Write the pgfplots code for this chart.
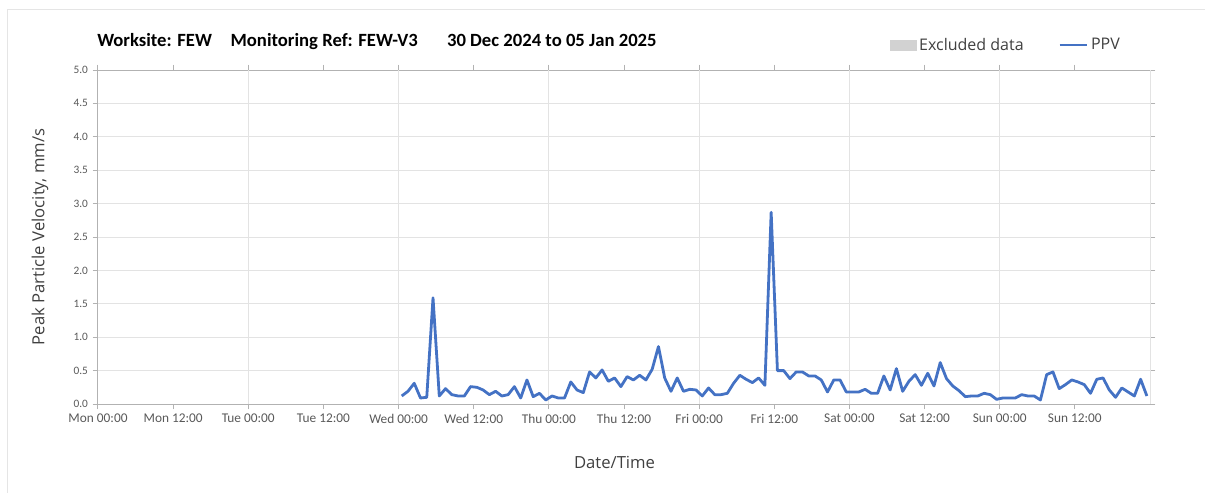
\documentclass[border=0pt]{standalone}
\usepackage{fontspec}
\setmainfont{Carlito}
\newfontfamily\labelfont{Open Sans}
\usepackage{pgfplots}
\pgfplotsset{compat=1.18}
\definecolor{ppvblue}{HTML}{4472C4}
\definecolor{ticktext}{HTML}{595959}
\definecolor{labeltext}{HTML}{404040}

\begin{document}
\begin{tikzpicture}
% 1px = 0.75pt, origin at the lower left corner of the plot area
\useasboundingbox (-73.5pt,-66.75pt) rectangle (830.25pt,303pt);
\draw[gray!20, line width=0.75pt] (-67.5pt,-66.75pt) -- (-67.5pt,295.5pt) -- (830.25pt,295.5pt);

\node[anchor=west, inner sep=0pt, font=\fontsize{14}{16}\selectfont\bfseries] at (-0.75pt,271.5pt)
  {Worksite: FEW\hspace{14pt}Monitoring Ref: FEW-V3\hspace{22pt}30 Dec 2024 to 05 Jan 2025};

\begin{axis}[
  scale only axis,
  width=789pt, height=250.5pt,
  xmin=0, xmax=168, ymin=0, ymax=5,
  xtick={0,12,...,156},
  xticklabels={Mon 00:00,Mon 12:00,Tue 00:00,Tue 12:00,Wed 00:00,Wed 12:00,Thu 00:00,Thu 12:00,Fri 00:00,Fri 12:00,Sat 00:00,Sat 12:00,Sun 00:00,Sun 12:00},
  extra x ticks={24,48,...,168},
  extra x tick labels={},
  extra x tick style={grid=major, major tick length=0pt},
  ytick={0,0.5,1,1.5,2,2.5,3,3.5,4,4.5,5},
  yticklabel={\pgfmathprintnumber[fixed,fixed zerofill,precision=1]{\tick}},
  /pgf/number format/assume math mode=true,
  ymajorgrids=true,
  grid style={gray!22, line width=0.75pt},
  tick align=outside,
  major tick length=4pt,
  tick style={gray!60, line width=0.75pt},
  axis line style={gray!60, line width=0.75pt},
  x tick label style={font=\fontsize{10}{11}\selectfont, text=ticktext},
  y tick label style={font=\fontsize{8.5}{9}\selectfont, text=ticktext},
  xlabel={Date/Time},
  ylabel={Peak Particle Velocity, mm/s},
  xlabel style={at={(axis description cs:0.491,-0.174)}, anchor=center, font=\labelfont\fontsize{12.5}{14}\selectfont, text=labeltext},
  ylabel style={at={(axis description cs:-0.0551,0.5)}, anchor=center, font=\labelfont\fontsize{12.5}{14}\selectfont, text=labeltext},
  legend style={at={(0.749,1.075)}, anchor=west, draw=none, fill=none,
    font=\labelfont\fontsize{12}{14}\selectfont, text=labeltext,
    /tikz/every even column/.append style={column sep=24pt}},
  legend columns=2,
  legend cell align=left,
]
\addlegendimage{legend image code/.code={\fill[gray!35] (0cm,-0.13cm) rectangle (0.68cm,0.13cm);}}
\addplot[color=ppvblue, line width=2.1pt, line join=round, mark=none,
  legend image code/.code={\draw[ppvblue, line width=2.1pt] (0cm,0cm) -- (0.72cm,0cm);}] table {
x y
48.5 0.12
49.5 0.19
50.5 0.31
51.5 0.09
52.5 0.10
53.5 1.59
54.5 0.12
55.5 0.23
56.5 0.14
57.5 0.12
58.5 0.12
59.5 0.26
60.5 0.25
61.5 0.21
62.5 0.14
63.5 0.19
64.5 0.12
65.5 0.14
66.5 0.26
67.5 0.09
68.5 0.36
69.5 0.11
70.5 0.16
71.5 0.06
72.5 0.12
73.5 0.09
74.5 0.09
75.5 0.33
76.5 0.21
77.5 0.17
78.5 0.48
79.5 0.39
80.5 0.51
81.5 0.34
82.5 0.39
83.5 0.26
84.5 0.41
85.5 0.36
86.5 0.43
87.5 0.36
88.5 0.52
89.5 0.86
90.5 0.39
91.5 0.19
92.5 0.39
93.5 0.19
94.5 0.22
95.5 0.21
96.5 0.12
97.5 0.24
98.5 0.14
99.5 0.14
100.5 0.16
101.5 0.31
102.5 0.43
103.5 0.37
104.5 0.32
105.5 0.39
106.5 0.28
107.5 2.87
108.5 0.50
109.5 0.50
110.5 0.38
111.5 0.48
112.5 0.48
113.5 0.42
114.5 0.42
115.5 0.36
116.5 0.18
117.5 0.36
118.5 0.36
119.5 0.18
120.5 0.18
121.5 0.18
122.5 0.22
123.5 0.16
124.5 0.16
125.5 0.42
126.5 0.21
127.5 0.53
128.5 0.19
129.5 0.34
130.5 0.44
131.5 0.28
132.5 0.46
133.5 0.27
134.5 0.62
135.5 0.38
136.5 0.27
137.5 0.20
138.5 0.11
139.5 0.12
140.5 0.12
141.5 0.16
142.5 0.14
143.5 0.07
144.5 0.09
145.5 0.09
146.5 0.09
147.5 0.14
148.5 0.12
149.5 0.12
150.5 0.06
151.5 0.44
152.5 0.48
153.5 0.23
154.5 0.29
155.5 0.36
156.5 0.33
157.5 0.29
158.5 0.16
159.5 0.37
160.5 0.39
161.5 0.21
162.5 0.10
163.5 0.24
164.5 0.18
165.5 0.12
166.5 0.37
167.5 0.12
};
\legend{Excluded data, PPV}
\end{axis}
\end{tikzpicture}
\end{document}
